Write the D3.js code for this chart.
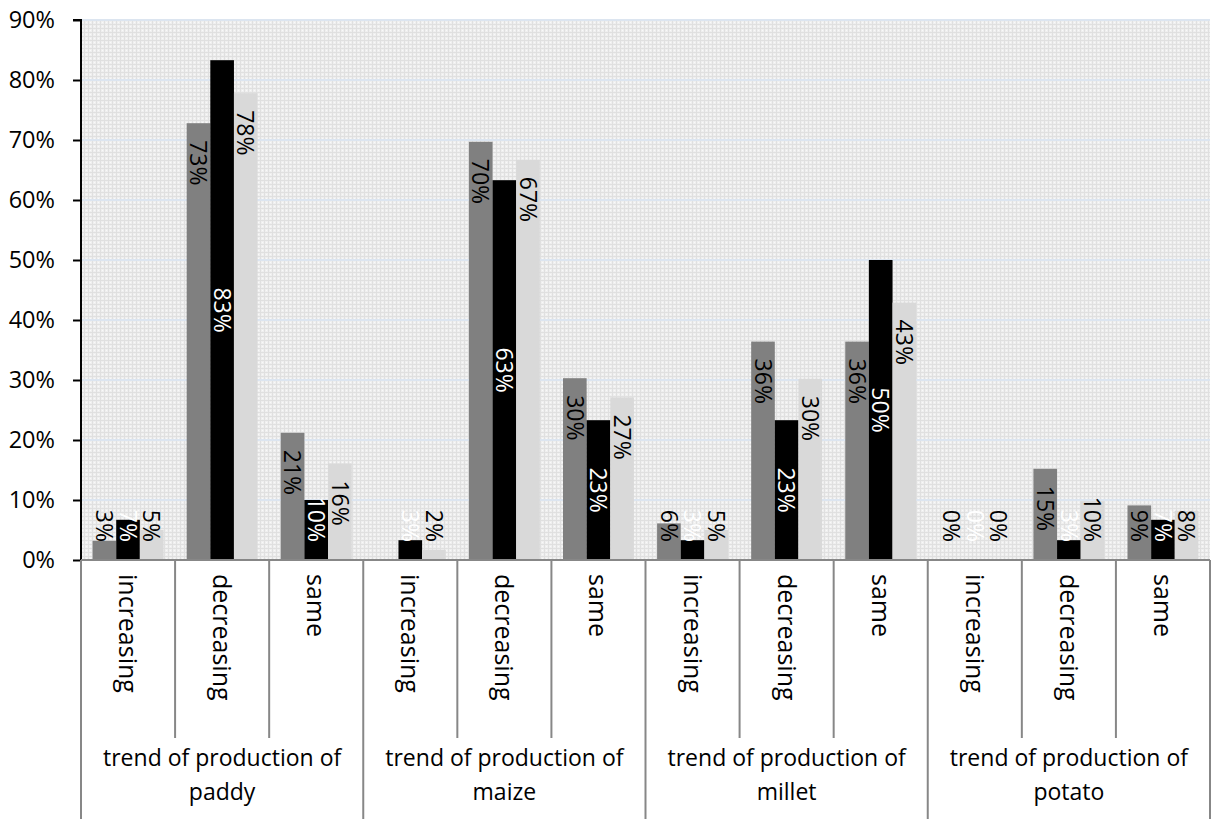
<!DOCTYPE html>
<html><head><meta charset="utf-8">
<script src="https://cdn.jsdelivr.net/npm/d3@7"></script>
<style>body{margin:0;background:#fff;} svg{display:block;} text{font-family:"Open Sans",sans-serif;}</style>
</head><body><svg id="c" width="1218" height="819"></svg>
<script>
const groups = ["trend of production of paddy","trend of production of maize","trend of production of millet","trend of production of potato"];
const subs = ["increasing","decreasing","same"];
const seriesNames = ["s1","s2","s3"];
// values (%)
const s1v = [3.2, 72.8, 21.2, 0, 69.7, 30.3, 6.1, 36.4, 36.4, 0, 15.2, 9.1];
const s2v = [6.7, 83.3, 10.0, 3.3, 63.3, 23.3, 3.3, 23.3, 50.0, 0, 3.3, 6.7];
const s3v = [5.0, 77.8, 16.1, 1.7, 66.7, 27.1, 5.0, 30.2, 42.9, 0, 9.8, 8.2];
// data labels as shown (null = no label)
const s1 = [3, 73, 21, null, 70, 30, 6, 36, 36, 0, 15, 9];
const s2 = [7, 83, 10, 3, 63, 23, 3, 23, 50, 0, 3, 7];
const s3 = [5, 78, 16, 2, 67, 27, 5, 30, 43, 0, 10, 8];
const yTicks = [0,10,20,30,40,50,60,70,80,90];
const colors = ["#808080","#000000","#d9d9d9"];
const labelColors = ["#000","#fff","#000"];
const labelPos = ["end","center","end"];

const svg = d3.select("#c");
const L=81, R=1210, T=20, B=560;
const cats = d3.range(12);
const x = d3.scaleBand().domain(cats).range([L,R]);
const xs = d3.scaleBand().domain([0,1,2]).range([0,x.bandwidth()]).paddingOuter(0.49).paddingInner(0);
const y = d3.scaleLinear().domain([0,90]).range([B,T]);

const defs = svg.append("defs");
const pat = defs.append("pattern").attr("id","bg").attr("width",4).attr("height",4).attr("patternUnits","userSpaceOnUse");
pat.append("rect").attr("width",4).attr("height",4).attr("fill","#efefef");
pat.append("rect").attr("width",4).attr("height",1).attr("fill","#e0e0e0");
pat.append("rect").attr("width",1).attr("height",4).attr("fill","#e0e0e0");
pat.append("rect").attr("x",2).attr("y",2).attr("width",1).attr("height",1).attr("fill","#f9f9f9");

svg.append("rect").attr("x",L).attr("y",T).attr("width",R-L).attr("height",B-T).attr("fill","url(#bg)");

// gridlines
svg.append("g").selectAll("line").data(yTicks.filter(d=>d>0)).join("line")
  .attr("x1",L).attr("x2",R).attr("y1",d=>y(d)).attr("y2",d=>y(d))
  .attr("stroke","#dce5f0").attr("stroke-width",2);

// bars
const vals=[s1v,s2v,s3v], labs=[s1,s2,s3];
seriesNames.forEach((sn,si)=>{
  svg.append("g").selectAll("rect").data(cats).join("rect")
    .attr("x",i=>x(i)+xs(si)).attr("width",xs.bandwidth())
    .attr("y",i=>y(vals[si][i])).attr("height",i=>B-y(vals[si][i]))
    .attr("fill",colors[si]);
});
seriesNames.forEach((sn,si)=>{
  svg.append("g").selectAll("text").data(cats.filter(i=>labs[si][i]!==null)).join("text")
    .text(i=>labs[si][i]+"%")
    .attr("font-size",23)
    .attr("fill",labelColors[si])
    .attr("dy","0.36em")
    .each(function(i){
      const len = this.getComputedTextLength();
      const top = y(vals[si][i]);
      const pref = labelPos[si]==="end" ? top+17 : (top+B)/2 - len/2;
      const start = Math.min(pref, B-18-len);
      const cx = x(i)+xs(si)+xs.bandwidth()/2;
      d3.select(this).attr("transform",`translate(${cx},${start}) rotate(90)`);
    });
});

// y axis
const ya = svg.append("g").attr("transform",`translate(${L},0)`).call(d3.axisLeft(y).tickValues(yTicks).tickFormat(d=>d+"%").tickSize(8).tickPadding(18));
ya.select(".domain").attr("stroke","#000").attr("stroke-width",2).attr("d",`M-8,${T}H0V${B}`);
ya.selectAll(".tick line").attr("stroke","#000").attr("stroke-width",2);
ya.selectAll(".tick text").attr("font-size",23.5).attr("fill","#000").attr("font-family","Open Sans");

// category axis
const ax = svg.append("g");
ax.append("line").attr("x1",L).attr("x2",R).attr("y1",B).attr("y2",B).attr("stroke","#878787").attr("stroke-width",2);
ax.selectAll("line.sub").data(d3.range(13)).join("line").attr("class","sub")
  .attr("x1",i=>i<12?x(i):R).attr("x2",i=>i<12?x(i):R)
  .attr("y1",B).attr("y2",i=>i%3===0?819:738)
  .attr("stroke","#878787").attr("stroke-width",2);
ax.selectAll("text.sub").data(cats).join("text").attr("class","sub")
  .text(i=>subs[i%3]).attr("font-size",25).attr("fill","#000")
  .attr("dy","0.36em")
  .attr("transform",i=>`translate(${x(i)+x.bandwidth()/2},574) rotate(90)`);
groups.forEach((gname,gi)=>{
  const cx = (x(gi*3)+ (gi*3+3<12?x(gi*3+3):R))/2;
  const words = gname.split(" ");
  const last = words.pop();
  const t = ax.append("text").attr("text-anchor","middle").attr("font-size",23).attr("fill","#000");
  t.append("tspan").attr("x",cx).attr("y",766).text(words.join(" "));
  t.append("tspan").attr("x",cx).attr("y",800).text(last);
});
</script></body></html>
